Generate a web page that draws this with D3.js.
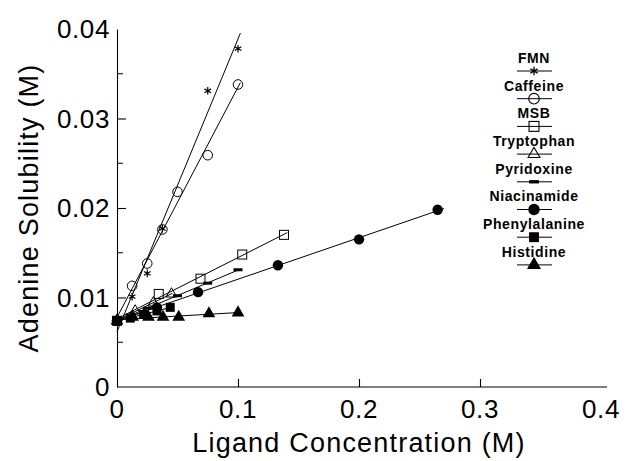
<!DOCTYPE html>
<html>
<head>
<meta charset="utf-8">
<script src="https://cdn.jsdelivr.net/npm/d3@7"></script>
<style>
  body { margin: 0; background: #fff; }
  text { font-family: "Liberation Sans", Arial, Helvetica, sans-serif; fill: #000; }
</style>
</head>
<body>
<div id="chart"></div>
<script>
// ligand concentration (M) / adenine solubility (M)
const fmnX = [0, 0.0125, 0.025, 0.0375, 0.075, 0.1];
const fmnY = [0.0074, 0.0101, 0.0127, 0.0177, 0.0331, 0.0378];
const caffeineX = [0, 0.0125, 0.025, 0.0375, 0.05, 0.075, 0.1];
const caffeineY = [0.0074, 0.0113, 0.0138, 0.0176, 0.0218, 0.0259, 0.0338];
const msbX = [0, 0.0345, 0.069, 0.1035, 0.138];
const msbY = [0.0074, 0.0104, 0.0121, 0.0148, 0.0170];
const tryptophanX = [0, 0.015, 0.03, 0.045];
const tryptophanY = [0.0074, 0.0085, 0.0094, 0.0104];
const pyridoxineX = [0, 0.025, 0.05, 0.075, 0.1];
const pyridoxineY = [0.0074, 0.0088, 0.0102, 0.0116, 0.0131];
const niacinamideX = [0, 0.033, 0.067, 0.133, 0.2, 0.265];
const niacinamideY = [0.0074, 0.0089, 0.0106, 0.0136, 0.0165, 0.0198];
const phenylalanineX = [0, 0.011, 0.022, 0.033, 0.044];
const phenylalanineY = [0.0074, 0.0077, 0.0081, 0.0085, 0.0089];
const histidineX = [0, 0.013, 0.026, 0.038, 0.051, 0.076, 0.1];
const histidineY = [0.0074, 0.0078, 0.0078, 0.0078, 0.0078, 0.0082, 0.0083];

const xTicks = [0, 0.1, 0.2, 0.3, 0.4];
const yTicks = [0, 0.01, 0.02, 0.03, 0.04];
const yMinorTicks = [0.005, 0.015, 0.025, 0.035];

const series = [
  {name: 'FMN', xs: fmnX, ys: fmnY, marker: 'asterisk'},
  {name: 'Caffeine', xs: caffeineX, ys: caffeineY, marker: 'circleOpen'},
  {name: 'MSB', xs: msbX, ys: msbY, marker: 'squareOpen'},
  {name: 'Tryptophan', xs: tryptophanX, ys: tryptophanY, marker: 'triangleOpen'},
  {name: 'Pyridoxine', xs: pyridoxineX, ys: pyridoxineY, marker: 'dash'},
  {name: 'Niacinamide', xs: niacinamideX, ys: niacinamideY, marker: 'circleFilled'},
  {name: 'Phenylalanine', xs: phenylalanineX, ys: phenylalanineY, marker: 'squareFilled'},
  {name: 'Histidine', xs: histidineX, ys: histidineY, marker: 'triangleFilled'}
];

const width = 629, height = 461;
const x = d3.scaleLinear().domain([0, 0.4]).range([117, 601]);
const y = d3.scaleLinear().domain([0, 0.04]).range([387, 29]);

const svg = d3.select('#chart')
    .append('svg')
    .attr('width', width)
    .attr('height', height);

// axes (ticks point inward, no frame on top/right)
const xAxis = svg.append('g')
    .attr('transform', `translate(0, ${y(0)})`)
    .call(d3.axisBottom(x).tickValues(xTicks).tickSizeInner(-8).tickSizeOuter(0).tickFormat(() => ''));
xAxis.select('.domain').attr('d', `M${x(0)},0H${x(0.4) + 6}`);
xAxis.selectAll('.tick').filter(d => d === 0 || d === 0.4).select('line').remove();

const yAxis = svg.append('g')
    .attr('transform', `translate(${x(0)}, 0)`)
    .call(d3.axisLeft(y).tickValues(yTicks).tickSizeInner(-9).tickSizeOuter(0).tickFormat(() => ''));
yAxis.selectAll('.tick').filter(d => d === 0 || d === 0.04).select('line').remove();

svg.append('g')
    .selectAll('line')
    .data(yMinorTicks)
    .enter()
    .append('line')
    .attr('x1', x(0))
    .attr('x2', x(0) + 6)
    .attr('y1', d => y(d))
    .attr('y2', d => y(d))
    .attr('stroke', 'black');

svg.selectAll('.domain, .tick line').attr('stroke', '#000').attr('stroke-width', 1.1);

// tick labels
svg.append('g')
    .selectAll('text')
    .data(xTicks)
    .enter()
    .append('text')
    .attr('x', d => x(d))
    .attr('y', 418)
    .attr('text-anchor', 'middle')
    .style('font-size', '26px')
    .style('letter-spacing', '0.6px')
    .text(d => d === 0 ? '0' : d.toFixed(1));

svg.append('g')
    .selectAll('text')
    .data(yTicks)
    .enter()
    .append('text')
    .attr('x', 110)
    .attr('y', d => y(d))
    .attr('dy', '0.36em')
    .attr('text-anchor', 'end')
    .style('font-size', '26px')
    .style('letter-spacing', '0.6px')
    .text(d => d === 0 ? '0' : d.toFixed(2));

// axis titles
svg.append('text')
    .attr('x', (x(0) + x(0.4)) / 2)
    .attr('y', 452)
    .attr('text-anchor', 'middle')
    .style('font-size', '27px')
    .style('letter-spacing', '1.2px')
    .text('Ligand Concentration (M)');

svg.append('text')
    .attr('transform', `translate(38, ${(y(0) + y(0.04)) / 2}) rotate(-90)`)
    .attr('text-anchor', 'middle')
    .style('font-size', '27px')
    .style('letter-spacing', '1.2px')
    .text('Adenine Solubility (M)');

function drawMarker(g, kind) {
  if (kind === 'asterisk') {
    g.append('path').attr('d', d3.symbol(d3.symbolAsterisk, 40)())
        .attr('fill', 'none').attr('stroke', 'black').attr('stroke-width', 1.2);
  } else if (kind === 'circleOpen') {
    g.append('circle').attr('r', 4.8).attr('fill', 'none').attr('stroke', 'black');
  } else if (kind === 'squareOpen') {
    g.append('rect').attr('x', -4.5).attr('y', -4.5).attr('width', 9).attr('height', 9)
        .attr('fill', 'none').attr('stroke', 'black');
  } else if (kind === 'triangleOpen') {
    g.append('path').attr('d', d3.symbol(d3.symbolTriangle, 50)())
        .attr('fill', 'none').attr('stroke', 'black');
  } else if (kind === 'dash') {
    g.append('rect').attr('x', -4.5).attr('y', -1.5).attr('width', 9).attr('height', 3).attr('fill', 'black');
  } else if (kind === 'circleFilled') {
    g.append('circle').attr('r', 5.2).attr('fill', 'black');
  } else if (kind === 'squareFilled') {
    g.append('rect').attr('x', -4.5).attr('y', -4.5).attr('width', 9).attr('height', 9).attr('fill', 'black');
  } else if (kind === 'triangleFilled') {
    g.append('path').attr('d', d3.symbol(d3.symbolTriangle, 70)()).attr('fill', 'black');
  }
}

// least-squares line for each ligand
function fit(xs, ys) {
  const mx = d3.mean(xs), my = d3.mean(ys);
  const slope = d3.sum(xs, (v, i) => (v - mx) * (ys[i] - my)) / d3.sum(xs, v => (v - mx) * (v - mx));
  return {slope: slope, intercept: my - slope * mx};
}

const plot = svg.append('g');

series.forEach(s => {
  const f = fit(s.xs, s.ys);
  const xEnd = d3.max(s.xs) * 1.02;
  plot.append('line')
      .attr('x1', x(0))
      .attr('y1', y(f.intercept))
      .attr('x2', x(xEnd))
      .attr('y2', y(f.intercept + f.slope * xEnd))
      .attr('stroke', 'black')
      .attr('stroke-width', 1);
});

series.forEach(s => {
  s.xs.forEach((v, i) => {
    const g = plot.append('g').attr('transform', `translate(${x(v)}, ${y(s.ys[i])})`);
    drawMarker(g, s.marker);
  });
});

// legend
const legend = svg.append('g').attr('transform', 'translate(534, 58)');
series.forEach((s, i) => {
  const row = legend.append('g').attr('transform', `translate(0, ${i * 27.7})`);
  row.append('text')
      .attr('text-anchor', 'middle')
      .attr('dy', '0.35em')
      .style('font-size', '14px')
      .style('font-weight', 'bold')
      .style('letter-spacing', '0.6px')
      .text(s.name);
  row.append('line')
      .attr('x1', -17).attr('x2', 18)
      .attr('y1', 13).attr('y2', 13)
      .attr('stroke', 'black');
  const m = row.append('g').attr('transform', 'translate(0, 13) scale(1.1)');
  drawMarker(m, s.marker);
});
</script>
</body>
</html>
